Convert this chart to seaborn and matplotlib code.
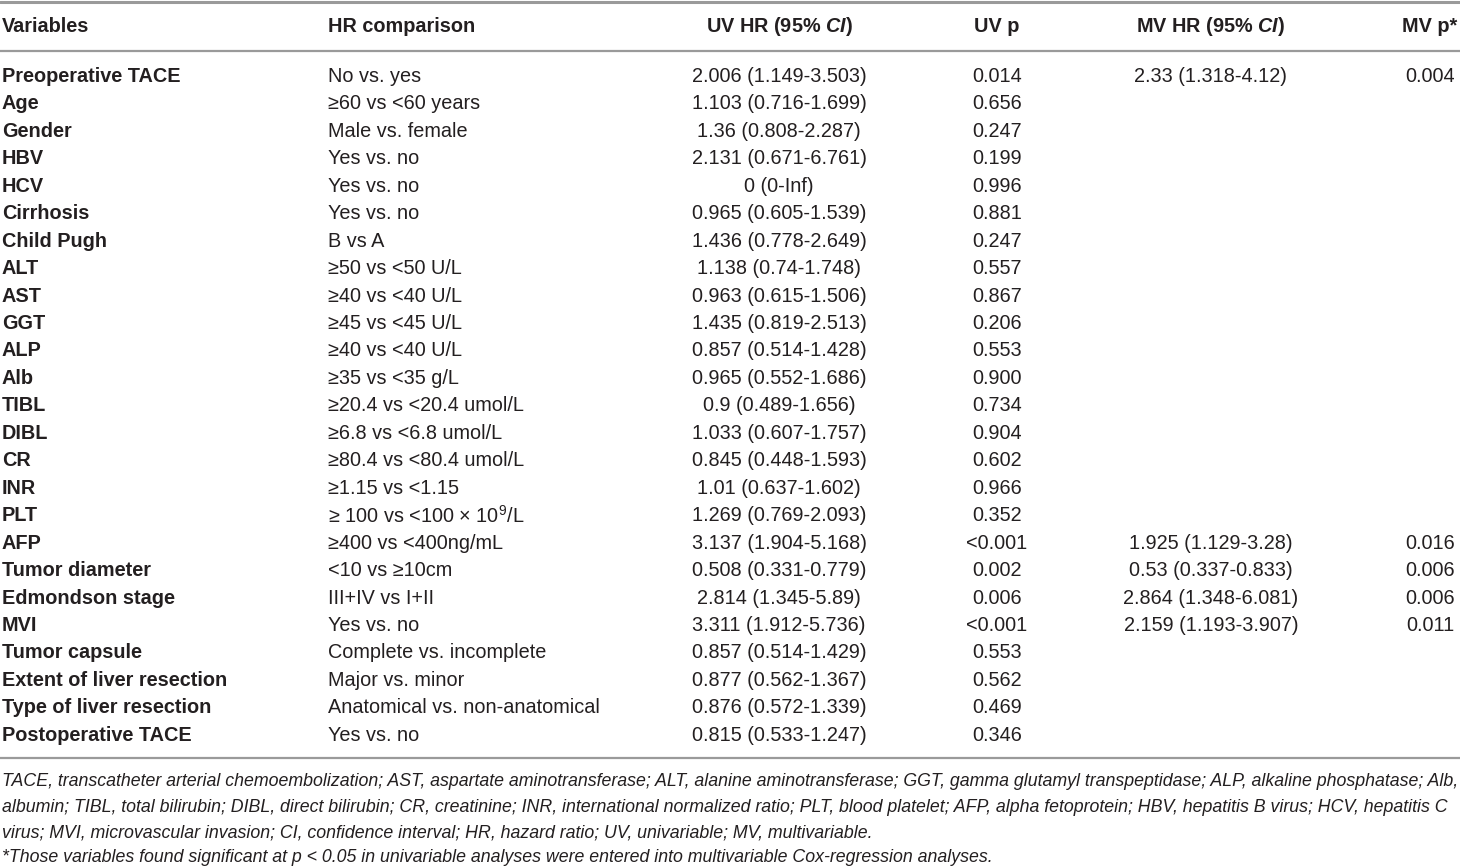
import matplotlib.pyplot as plt
import seaborn as sns

headers = ["Variables", "HR comparison", r"UV HR (95% $\mathbfit{CI}$)", "UV p",
           r"MV HR (95% $\mathbfit{CI}$)", "MV p*"]

variables = ["Preoperative TACE", "Age", "Gender", "HBV", "HCV", "Cirrhosis",
             "Child Pugh", "ALT", "AST", "GGT", "ALP", "Alb", "TIBL", "DIBL", "CR",
             "INR", "PLT", "AFP", "Tumor diameter", "Edmondson stage", "MVI",
             "Tumor capsule", "Extent of liver resection", "Type of liver resection",
             "Postoperative TACE"]

comparisons = ["No vs. yes", "≥60 vs <60 years", "Male vs. female", "Yes vs. no",
               "Yes vs. no", "Yes vs. no", "B vs A", "≥50 vs <50 U/L", "≥40 vs <40 U/L",
               "≥45 vs <45 U/L", "≥40 vs <40 U/L", "≥35 vs <35 g/L",
               "≥20.4 vs <20.4 umol/L", "≥6.8 vs <6.8 umol/L", "≥80.4 vs <80.4 umol/L",
               "≥1.15 vs <1.15", r"≥ 100 vs <100 × 10$^{9}$/L", "≥400 vs <400ng/mL",
               "<10 vs ≥10cm", "III+IV vs I+II", "Yes vs. no", "Complete vs. incomplete",
               "Major vs. minor", "Anatomical vs. non-anatomical", "Yes vs. no"]

uv_hr = ["2.006 (1.149-3.503)", "1.103 (0.716-1.699)", "1.36 (0.808-2.287)",
         "2.131 (0.671-6.761)", "0 (0-Inf)", "0.965 (0.605-1.539)", "1.436 (0.778-2.649)",
         "1.138 (0.74-1.748)", "0.963 (0.615-1.506)", "1.435 (0.819-2.513)",
         "0.857 (0.514-1.428)", "0.965 (0.552-1.686)", "0.9 (0.489-1.656)",
         "1.033 (0.607-1.757)", "0.845 (0.448-1.593)", "1.01 (0.637-1.602)",
         "1.269 (0.769-2.093)", "3.137 (1.904-5.168)", "0.508 (0.331-0.779)",
         "2.814 (1.345-5.89)", "3.311 (1.912-5.736)", "0.857 (0.514-1.429)",
         "0.877 (0.562-1.367)", "0.876 (0.572-1.339)", "0.815 (0.533-1.247)"]

uv_p = ["0.014", "0.656", "0.247", "0.199", "0.996", "0.881", "0.247", "0.557", "0.867",
        "0.206", "0.553", "0.900", "0.734", "0.904", "0.602", "0.966", "0.352", "<0.001",
        "0.002", "0.006", "<0.001", "0.553", "0.562", "0.469", "0.346"]

mv_hr = ["2.33 (1.318-4.12)"] + [""] * 16 + ["1.925 (1.129-3.28)", "0.53 (0.337-0.833)",
         "2.864 (1.348-6.081)", "2.159 (1.193-3.907)"] + [""] * 4

mv_p = ["0.004"] + [""] * 16 + ["0.016", "0.006", "0.006", "0.011"] + [""] * 4

footnotes = [
    "TACE, transcatheter arterial chemoembolization; AST, aspartate aminotransferase; ALT, alanine aminotransferase; GGT, gamma glutamyl transpeptidase; ALP, alkaline phosphatase; Alb,",
    "albumin; TIBL, total bilirubin; DIBL, direct bilirubin; CR, creatinine; INR, international normalized ratio; PLT, blood platelet; AFP, alpha fetoprotein; HBV, hepatitis B virus; HCV, hepatitis C",
    "virus; MVI, microvascular invasion; CI, confidence interval; HR, hazard ratio; UV, univariable; MV, multivariable.",
    "*Those variables found significant at p < 0.05 in univariable analyses were entered into multivariable Cox-regression analyses.",
]

sns.set_theme(style="white")
plt.rcParams['font.family'] = ['Liberation Sans', 'DejaVu Sans']
plt.rcParams['mathtext.fontset'] = 'custom'
plt.rcParams['mathtext.rm'] = 'Liberation Sans'
plt.rcParams['mathtext.it'] = 'Liberation Sans:italic'
plt.rcParams['mathtext.bf'] = 'Liberation Sans:bold'
plt.rcParams['mathtext.bfit'] = 'Liberation Sans:italic:bold'

txt = "#231f20"
rule = "#9a9a9a"
fs = 14.3

fig = plt.figure(figsize=(14.6, 8.68), dpi=100)
ax = fig.add_axes([0, 0, 1, 1])
ax.set_xlim(0, 1460)
ax.set_ylim(868, 0)
ax.axis('off')

# column anchors (x, alignment)
cols = [(2, 'left'), (328, 'left'), (779, 'center'), (997, 'center'),
        (1211, 'center'), (1430, 'center')]

ax.axhline(2, color=rule, lw=2.2)
ax.axhline(50.5, color=rule, lw=1.6)
ax.axhline(758, color=rule, lw=1.6)

for (x, ha), h in zip(cols, headers):
    ax.text(x, 27, h, ha=ha, va='center', fontsize=fs, fontweight='bold', color=txt)

row_y0, row_dy = 76.5, 27.45
for i in range(len(variables)):
    y = row_y0 + i * row_dy
    vals = [variables[i], comparisons[i], uv_hr[i], uv_p[i], mv_hr[i], mv_p[i]]
    for j, ((x, ha), v) in enumerate(zip(cols, vals)):
        if v:
            ax.text(x, y, v, ha=ha, va='center', fontsize=fs, color=txt,
                    fontweight='bold' if j == 0 else 'normal')

# footnotes: fit first line to the table width
fig.canvas.draw()
renderer = fig.canvas.get_renderer()
probe = ax.text(2, 782, footnotes[0], ha='left', va='center', fontsize=13,
                style='italic', color=txt)
w = probe.get_window_extent(renderer).width
probe.remove()
fn_fs = 13 * 1456 / w
for k, line in enumerate(footnotes):
    ax.text(2, 782 + k * 25.3, line, ha='left', va='center', fontsize=fn_fs,
            style='italic', color=txt)

plt.savefig("out.png", dpi=100)
